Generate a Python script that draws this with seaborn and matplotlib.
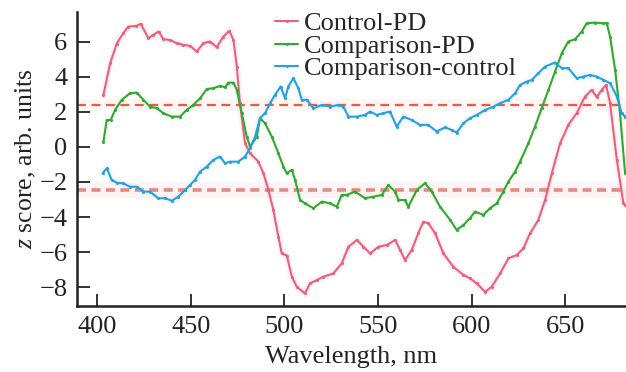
import numpy as np
import pandas as pd
import matplotlib
matplotlib.use("Agg")
import matplotlib.pyplot as plt
import seaborn as sns

# ---- data ----
ctrl_pd_nm = [403.4, 407, 410.5, 414, 416.7, 421, 423.3, 427.4, 430, 433, 435.4, 439, 442.5, 446,
              449.7, 453.2, 456.8, 460.3, 463.9, 467.4, 470.6, 472.8, 474.6, 476.3, 479, 481.7,
              486.1, 488.8, 491.5, 494.1, 496.8, 498.6, 501.3, 504, 506.6, 511, 513.7, 517.3,
              520.8, 526.2, 530.6, 534.2, 538.7, 542.2, 545.8, 550.2, 554.7, 559.1, 561.8, 564.4,
              568, 571.5, 574.2, 576.9, 580.5, 584.9, 590.2, 595.6, 599.1, 602.7, 607.2, 610.7,
              615.2, 619.6, 624.1, 627.6, 631.2, 635.6, 639.2, 642.8, 647.2, 651.6, 656.1, 660.5,
              664.1, 666.8, 669.4, 671.8, 673.9, 677.5, 681, 682]
ctrl_pd_z = [2.97, 4.78, 5.9, 6.5, 6.87, 6.91, 7.03, 6.21, 6.4, 6.59, 6.15, 6.11, 5.92, 5.83,
             5.77, 5.45, 5.92, 6.02, 5.7, 6.3, 6.63, 6.11, 4.59, 2.5, 0.21, -0.36,
             -0.84, -1.5, -2.46, -3.6, -5.12, -6.08, -6.2, -7.41, -7.98, -8.36, -7.79, -7.6,
             -7.41, -7.22, -6.65, -5.7, -5.31, -5.7, -6.08, -5.7, -5.6, -5.31, -5.88, -6.46,
             -5.88, -4.93, -4.27, -4.36, -4.93, -6.08, -6.84, -7.31, -7.5, -7.79, -8.27, -7.98,
             -7.22, -6.36, -6.17, -5.79, -4.93, -4.17, -3.03, -1.5, 0.21, 1.26, 1.93, 2.88,
             3.26, 2.84, 3.26, 3.54, 2.5, -0.74, -3.22, -3.3]

comp_pd_nm = [403.4, 405.2, 407.3, 409.6, 413.2, 417.6, 421.2, 424.7, 428.3, 431.9, 435.4, 439.8,
              444.3, 447.8, 451.4, 455, 458.6, 462.1, 465.7, 468.3, 470.1, 472.8, 474.6, 477.3,
              479.9, 481.7, 485.3, 487, 489.7, 493.3, 496.8, 499.5, 501.3, 504, 505.7, 508.4,
              511, 515.5, 520, 524.4, 528, 530.6, 533.3, 537.7, 543.1, 547.5, 552, 555.5, 559.1,
              560.9, 564.4, 566.2, 570.7, 575.1, 578.7, 583.1, 588.5, 592, 595.6, 599.1, 601.8,
              606.2, 609.8, 613.4, 616.9, 619.6, 623.2, 625.8, 630.3, 633.8, 637.4, 641, 644.5,
              648.1, 651.6, 655.2, 658.8, 661.4, 665.9, 670.3, 672.1, 673.9, 676.6, 679.2, 681.9]
comp_pd_z = [0.3, 1.54, 1.54, 2.11, 2.69, 3.07, 3.1, 2.69, 2.3, 2.21, 1.93, 1.73,
             1.73, 2.11, 2.4, 2.78, 3.31, 3.35, 3.49, 3.41, 3.67, 3.67, 3.26, 1.93,
             0.59, 0.02, 0.59, 1.64, 1.35, 0.59, -0.36, -1.12, -1.5, -1.31, -1.88, -3.03,
             -3.22, -3.5, -3.12, -3.22, -3.41, -2.74, -2.74, -2.55, -2.93, -2.84, -2.74, -2.17, -2.55,
             -3.03, -3.03, -3.41, -2.46, -2.07, -2.55, -3.41, -4.17, -4.74, -4.46, -4.07, -3.69,
             -3.88, -3.5, -3.22, -2.55, -1.98, -1.41, -0.84, 0.21, 1.16, 2.21, 3.26, 4.3,
             5.35, 6.02, 6.15, 6.59, 7.06, 7.1, 7.06, 7.06, 6.3, 4.4, 1.93, -1.5]

comp_ctrl_nm = [403, 405.2, 407.8, 410.5, 414, 417.6, 421.2, 424.7, 428.3, 432.7, 436.3, 439.9,
                443.4, 447, 449.7, 452.3, 455, 458.6, 462.1, 465.7, 468.3, 471, 475.4, 479,
                481.7, 484.4, 487, 489.7, 492.4, 495, 498, 500.4, 502.1, 504.8, 507.5, 509.3,
                512, 515.5, 520, 524.4, 528.8, 531.5, 534.2, 538.7, 543.1, 545.8, 549.3, 552.9,
                556.4, 560, 563.5, 568, 572.4, 576.9, 581.3, 585.8, 589.3, 592, 595.6, 599.1,
                602.7, 607.2, 611.6, 615.2, 619.6, 623.2, 625.8, 629.4, 632.1, 635.6, 639.2,
                644.5, 648.1, 651.6, 656.1, 659.6, 663.2, 666.8, 670.3, 673.9, 677.5, 680.1, 682]
comp_ctrl_z = [-1.5, -1.22, -1.88, -2.04, -2.08, -2.27, -2.27, -2.55, -2.55, -2.93, -2.93, -3.07,
               -2.84, -2.46, -2.17, -1.88, -1.41, -1.12, -0.74, -0.55, -0.93, -0.84, -0.84, -0.55,
               -0.08, 0.59, 1.64, 1.93, 2.5, 2.97, 3.45, 2.78, 3.45, 3.92, 3.35, 2.69,
               2.69, 2.21, 2.4, 2.3, 2.4, 2.3, 1.73, 1.73, 1.83, 2.02, 1.83, 1.93,
               2.02, 1.16, 1.73, 1.54, 1.26, 1.26, 0.88, 1.12, 0.97, 0.82, 1.35, 1.64,
               1.83, 2.11, 2.3, 2.5, 2.69, 3.07, 3.54, 3.73, 3.83, 4.21, 4.59,
               4.82, 4.5, 4.5, 3.92, 4.02, 4.11, 4.02, 3.83, 3.64, 2.88, 1.93, 1.73]

series_names = ["Control-PD", "Comparison-PD", "Comparison-control"]
thresholds = [2.38, -2.45]
x_ticks = [400, 450, 500, 550, 600, 650]
y_ticks = [-8, -6, -4, -2, 0, 2, 4, 6]

colors = {"Control-PD": "#ea5f7c", "Comparison-PD": "#2ea83a", "Comparison-control": "#27a0e0"}

df = pd.concat([
    pd.DataFrame({"nm": ctrl_pd_nm, "z": ctrl_pd_z, "series": series_names[0]}),
    pd.DataFrame({"nm": comp_pd_nm, "z": comp_pd_z, "series": series_names[1]}),
    pd.DataFrame({"nm": comp_ctrl_nm, "z": comp_ctrl_z, "series": series_names[2]}),
], ignore_index=True)

sns.set_theme(style="ticks")
plt.rcParams["font.family"] = ["Liberation Serif", "DejaVu Serif"]
plt.rcParams["mathtext.fontset"] = "custom"
plt.rcParams["mathtext.it"] = "Liberation Serif:italic"
plt.rcParams["mathtext.rm"] = "Liberation Serif"

fig = plt.figure(figsize=(6.26, 3.72), dpi=100)
ax = fig.add_axes([0.123, 0.177, 0.877, 0.791])

# faint halos
halo = {"Control-PD": "#f4a0b0", "Comparison-PD": "#e8e890", "Comparison-control": "#a8d8f0"}
for name in series_names:
    sub = df[df.series == name]
    ax.plot(sub.nm, sub.z, color=halo[name], lw=5, alpha=0.12, zorder=1)

# threshold lines with faint bands
ax.axhspan(thresholds[0] - 0.35, thresholds[0] + 0.35, color="#f6c0c0", alpha=0.12, lw=0, zorder=0)
ax.axhspan(thresholds[1] - 0.45, thresholds[1] + 0.45, color="#f6c0c0", alpha=0.15, lw=0, zorder=0)
ax.axhline(thresholds[0], color="#f05a3c", lw=1.6, ls=(0, (4, 2.5)), zorder=2)
ax.axhline(thresholds[1], color="#e07870", lw=2.6, ls=(0, (2.5, 1.5)), alpha=0.85, zorder=2)

sns.lineplot(data=df, x="nm", y="z", hue="series", hue_order=series_names,
             palette=colors, ax=ax, lw=1.5, marker="o", markersize=2.2,
             markeredgewidth=0, sort=False, estimator=None, zorder=3)

ax.set_xlim(389.3, 682.4)
ax.set_ylim(-9.09, 7.71)
ax.set_xticks(x_ticks)
ax.set_yticks(y_ticks)
ax.set_yticklabels([f"{v}".replace("-", "\u2212") for v in y_ticks])
ax.tick_params(direction="in", length=9, width=1.3, labelsize=19, colors="#222222", pad=7)
for s in ["top", "right"]:
    ax.spines[s].set_visible(False)
for s in ["left", "bottom"]:
    ax.spines[s].set_linewidth(1.8)
    ax.spines[s].set_color("#222222")

ax.set_xlabel("Wavelength, nm", fontsize=19, color="#222222", labelpad=6)
ax.set_ylabel(r"$z$ score, arb. units", fontsize=18.5, color="#222222", labelpad=1)

leg = ax.legend(loc="upper left", bbox_to_anchor=(0.342, 1.036), frameon=False,
                fontsize=19, handlelength=0.85, handletextpad=0.25, labelspacing=-0.04,
                borderaxespad=0)
for h in leg.legend_handles:
    h.set_linewidth(1.5)

fig.savefig("out.png", dpi=100)
